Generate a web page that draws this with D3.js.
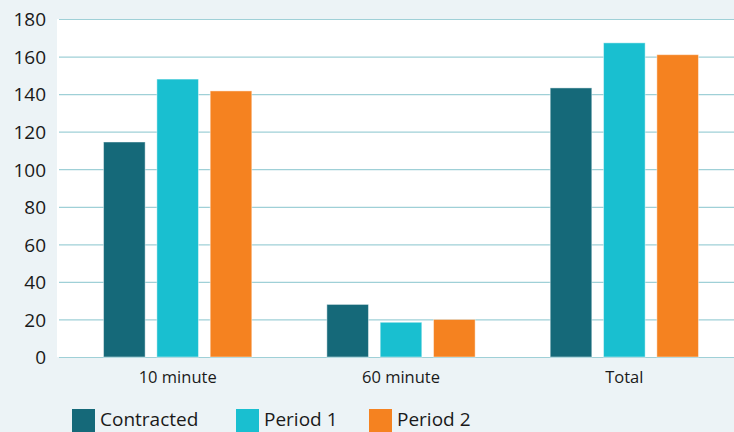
<!DOCTYPE html>
<html>
<head>
<meta charset="utf-8">
<script src="https://cdn.jsdelivr.net/npm/d3@7"></script>
<style>
  html, body { margin: 0; padding: 0; background: #ecf3f6; }
  svg { display: block; font-family: "Open Sans", sans-serif; }
</style>
</head>
<body>
<svg id="chart" width="734" height="432"></svg>
<script>
// Response counts by time window
const categories = ["10 minute", "60 minute", "Total"];
const seriesNames = ["Contracted", "Period 1", "Period 2"];
const contracted = [114.5, 28, 143.3];
const period1 = [148, 18.5, 167.3];
const period2 = [141.7, 20, 161];
const yTicks = [0, 20, 40, 60, 80, 100, 120, 140, 160, 180];

const seriesValues = [contracted, period1, period2];
const colors = ["#156979", "#19bfd0", "#f58220"];

const svg = d3.select("#chart");
const plot = { left: 57, right: 734, top: 19, bottom: 357 };

// plot background
svg.append("rect")
  .attr("x", plot.left).attr("y", plot.top)
  .attr("width", plot.right - plot.left).attr("height", plot.bottom - plot.top)
  .attr("fill", "#ffffff");

const y = d3.scaleLinear().domain([0, 180]).range([plot.bottom, plot.top]);
const x = d3.scaleBand().domain(categories).range([66, 736]);
const xInner = d3.scaleBand().domain(seriesNames).range([-80, 80])
  .paddingInner(0.22).paddingOuter(0.11);

// gridlines
svg.append("g").selectAll("line").data(yTicks).join("line")
  .attr("x1", plot.left + 2).attr("x2", plot.right)
  .attr("y1", d => y(d) + 0.5).attr("y2", d => y(d) + 0.5)
  .attr("stroke", "#9fd0d7").attr("stroke-width", 1.2);

// y tick labels
const yAxis = d3.axisLeft(y).tickValues(yTicks).tickSize(0).tickPadding(0);
const gy = svg.append("g").attr("transform", `translate(46,0)`).call(yAxis);
gy.select(".domain").remove();
gy.selectAll("text")
  .attr("font-size", 19).attr("fill", "#1a1a1a")
  .attr("font-family", "Open Sans, sans-serif")
  .attr("dy", "0.36em");

// bars
const groups = svg.append("g").selectAll("g").data(categories).join("g")
  .attr("transform", c => `translate(${x(c) + x.bandwidth() / 2},0)`);
groups.selectAll("rect")
  .data((c, i) => seriesNames.map((s, j) => ({ s, j, v: seriesValues[j][i] })))
  .join("rect")
  .attr("x", d => xInner(d.s))
  .attr("width", xInner.bandwidth())
  .attr("y", d => y(d.v))
  .attr("height", d => y(0) - y(d.v))
  .attr("fill", d => colors[d.j])
  .attr("stroke", "#ffffff").attr("stroke-opacity", 0.45).attr("stroke-width", 1);

// category labels
const xAxis = d3.axisBottom(x).tickSize(0).tickPadding(0);
const gx = svg.append("g").attr("transform", `translate(0,${plot.bottom})`).call(xAxis);
gx.select(".domain").remove();
gx.selectAll("text")
  .attr("font-size", 16.5).attr("fill", "#1a1a1a")
  .attr("font-family", "Open Sans, sans-serif")
  .attr("dy", null).attr("y", 26);

// legend
const legendX = [72, 236, 369];
const legend = svg.append("g").selectAll("g").data(seriesNames).join("g")
  .attr("transform", (d, i) => `translate(${legendX[i]},409)`);
legend.append("rect").attr("width", 23).attr("height", 23)
  .attr("fill", (d, i) => colors[i]);
legend.append("text").attr("x", 28).attr("y", 17)
  .attr("font-size", 19).attr("fill", "#1a1a1a")
  .text(d => d);
</script>
</body>
</html>
